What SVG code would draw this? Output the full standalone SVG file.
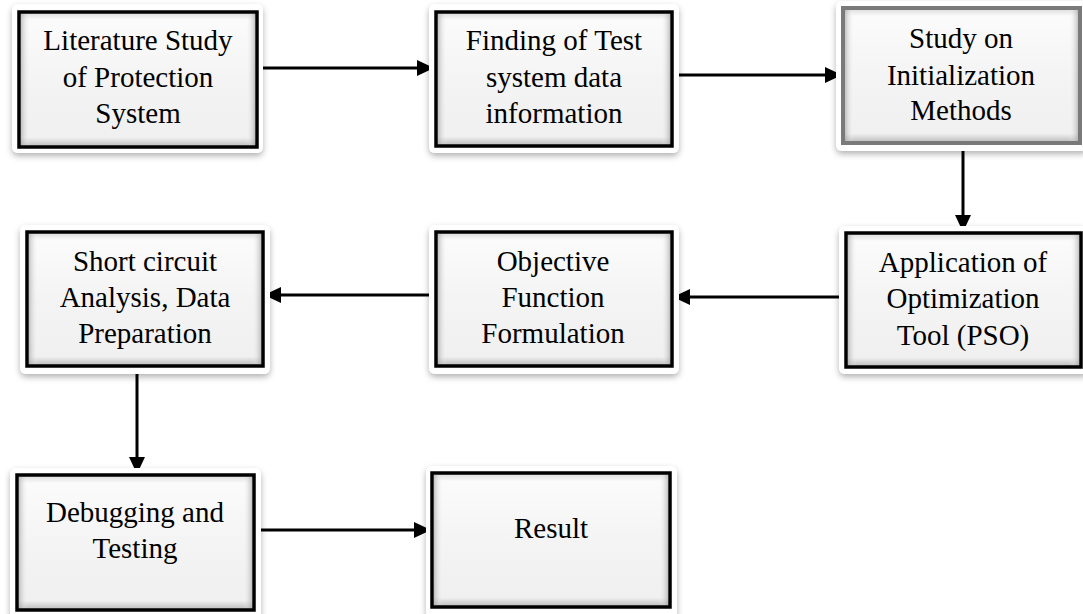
<svg xmlns="http://www.w3.org/2000/svg" width="1083" height="614" viewBox="0 0 1083 614">
<defs>
<style>
.frame{fill:#ffffff;filter:url(#sh)}
.box{fill:url(#vg);stroke:#000;stroke-width:3.5}
.box.grey{stroke:#7a7a7a;stroke-width:4}
.hov{fill:url(#hg);stroke:none}
.t{font-family:"Liberation Serif","Times New Roman",serif;font-size:29px;fill:#000;text-anchor:middle}
.c{fill:none;stroke:#000;stroke-width:3;marker-end:url(#ah)}
</style>
<filter id="sh" x="-10%" y="-10%" width="120%" height="130%">
<feDropShadow dx="0" dy="3" stdDeviation="3" flood-color="#000" flood-opacity="0.3"/>
</filter>
<linearGradient id="vg" x1="0" y1="0" x2="0" y2="1">
<stop offset="0" stop-color="#d8d8d8"/>
<stop offset="0.06" stop-color="#fbfbfb"/>
<stop offset="0.5" stop-color="#f4f4f4"/>
<stop offset="0.93" stop-color="#f0f0f0"/>
<stop offset="1" stop-color="#b8b8b8"/>
</linearGradient>
<linearGradient id="hg" x1="0" y1="0" x2="1" y2="0">
<stop offset="0" stop-color="#a0a0a0" stop-opacity="0.6"/>
<stop offset="0.04" stop-color="#ffffff" stop-opacity="0"/>
<stop offset="0.96" stop-color="#ffffff" stop-opacity="0"/>
<stop offset="1" stop-color="#a0a0a0" stop-opacity="0.6"/>
</linearGradient>
<marker id="ah" markerWidth="18" markerHeight="18" refX="17" refY="8" orient="auto" markerUnits="userSpaceOnUse">
<path d="M0,0 L17,8 L0,16 z" fill="#000"/>
</marker>
</defs>
<rect width="1083" height="614" fill="#ffffff"/>

<g id="connectors">
<line class="c" x1="259" y1="68" x2="434" y2="68"/>
<line class="c" x1="674" y1="75" x2="842" y2="75"/>
<line class="c" x1="963" y1="145" x2="963" y2="232"/>
<line class="c" x1="844" y1="297" x2="673" y2="297"/>
<line class="c" x1="434" y1="295" x2="264" y2="295"/>
<line class="c" x1="137" y1="368" x2="137" y2="474"/>
<line class="c" x1="256" y1="530" x2="431" y2="530"/>
</g>

<g id="n1">
<rect class="frame" x="12" y="4" width="251" height="149" rx="6"/>
<rect class="box" x="19" y="12" width="238" height="135"/>
<rect class="hov" x="21" y="14" width="234" height="131"/>
<text class="t" x="138" y="50">Literature Study</text>
<text class="t" x="138" y="87">of Protection</text>
<text class="t" x="138" y="123">System</text>
</g>

<g id="n2">
<rect class="frame" x="429" y="4" width="250" height="149" rx="6"/>
<rect class="box" x="436" y="12" width="236" height="134"/>
<rect class="hov" x="438" y="14" width="232" height="130"/>
<text class="t" x="554" y="50">Finding of Test</text>
<text class="t" x="554" y="87">system data</text>
<text class="t" x="554" y="123">information</text>
</g>

<g id="n3">
<rect class="frame" x="836" y="1" width="252" height="150" rx="6"/>
<rect class="box grey" x="843" y="8" width="237" height="135"/>
<rect class="hov" x="845" y="10" width="233" height="131"/>
<text class="t" x="961" y="48">Study on</text>
<text class="t" x="961" y="85">Initialization</text>
<text class="t" x="961" y="120">Methods</text>
</g>

<g id="n4">
<rect class="frame" x="839" y="226" width="250" height="148" rx="6"/>
<rect class="box" x="846" y="233" width="235" height="134"/>
<rect class="hov" x="848" y="235" width="231" height="130"/>
<text class="t" x="963" y="272">Application of</text>
<text class="t" x="963" y="308">Optimization</text>
<text class="t" x="963" y="345">Tool (PSO)</text>
</g>

<g id="n5">
<rect class="frame" x="429" y="225" width="250" height="149" rx="6"/>
<rect class="box" x="436" y="232" width="236" height="134"/>
<rect class="hov" x="438" y="234" width="232" height="130"/>
<text class="t" x="553" y="271">Objective</text>
<text class="t" x="553" y="307">Function</text>
<text class="t" x="553" y="343">Formulation</text>
</g>

<g id="n6">
<rect class="frame" x="20" y="225" width="250" height="149" rx="6"/>
<rect class="box" x="27" y="232" width="236" height="134"/>
<rect class="hov" x="29" y="234" width="232" height="130"/>
<text class="t" x="145" y="271">Short circuit</text>
<text class="t" x="145" y="307">Analysis, Data</text>
<text class="t" x="145" y="343">Preparation</text>
</g>

<g id="n7">
<rect class="frame" x="10" y="468" width="251" height="152" rx="6"/>
<rect class="box" x="17" y="475" width="237" height="135"/>
<rect class="hov" x="19" y="477" width="233" height="131"/>
<text class="t" x="135" y="522">Debugging and</text>
<text class="t" x="135" y="558">Testing</text>
</g>

<g id="n8">
<rect class="frame" x="426" y="466" width="251" height="152" rx="6"/>
<rect class="box" x="432" y="473" width="238" height="134"/>
<rect class="hov" x="434" y="475" width="234" height="130"/>
<text class="t" x="551" y="538">Result</text>
</g>
</svg>
